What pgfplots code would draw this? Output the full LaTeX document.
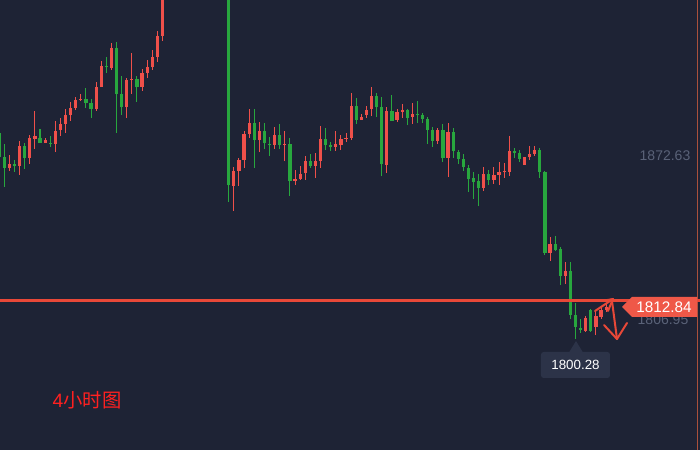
\documentclass[border=0pt]{standalone}
\usepackage{pgfplots}
\usepackage{pgfplotstable}
\usepackage{fontspec}
\pgfplotsset{compat=1.18}
\setmainfont{Liberation Sans}
\newfontfamily\cjk{Noto Sans CJK SC}
\definecolor{bgc}{RGB}{30,35,53}
\definecolor{upred}{RGB}{239,80,74}
\definecolor{dngreen}{RGB}{40,167,62}
\definecolor{linered}{RGB}{232,72,56}
\definecolor{tagred}{RGB}{239,88,72}
\definecolor{graytxt}{RGB}{90,98,120}
\definecolor{tipbg}{RGB}{44,51,72}
\definecolor{edgeline}{RGB}{170,80,60}
\definecolor{cnred}{RGB}{255,32,32}

% rising candles (red): index, open, high, low, close
\pgfplotstableread{
i o h l c
2 1857.2 1861.5 1856.2 1858.5
4 1857.9 1866.2 1854.9 1864.5
6 1860.5 1868.2 1858.5 1867.2
7 1866.9 1876.2 1863.5 1867.9
9 1865.5 1867.2 1865.5 1866.5
11 1865.2 1872.9 1862.5 1869.5
12 1869.9 1873.9 1867.9 1871.9
13 1871.9 1876.9 1868.9 1874.9
14 1874.9 1879.2 1872.9 1877.2
15 1877.2 1880.9 1876.5 1879.9
16 1879.9 1881.9 1879.5 1880.2
19 1876.9 1885.9 1876.2 1884.2
20 1884.2 1892.9 1884.2 1891.2
22 1890.5 1898.9 1889.9 1897.2
25 1877.5 1887.2 1873.9 1886.5
26 1886.5 1895.5 1881.9 1886.9
28 1884.2 1890.2 1882.9 1888.9
29 1888.9 1893.2 1887.2 1890.9
30 1890.9 1896.5 1889.9 1894.2
31 1894.2 1902.9 1892.5 1901.2
32 1901.2 1918.2 1899.5 1916.5
46 1851.2 1857.5 1842.9 1856.2
47 1856.2 1860.5 1851.2 1859.9
48 1859.9 1869.5 1857.2 1868.5
49 1868.5 1876.9 1867.2 1872.2
51 1866.5 1872.5 1862.5 1869.5
54 1864.9 1870.9 1863.5 1868.2
56 1864.9 1869.5 1859.5 1865.2
58 1852.9 1856.5 1851.5 1853.5
59 1853.5 1857.9 1853.2 1855.2
60 1855.5 1861.2 1853.2 1859.5
62 1857.9 1862.2 1853.9 1859.5
63 1859.5 1871.2 1857.2 1866.9
66 1864.2 1869.5 1862.9 1865.2
67 1864.9 1868.2 1863.2 1866.9
68 1866.9 1868.9 1865.9 1867.2
69 1867.2 1882.2 1866.5 1877.9
71 1873.2 1875.2 1873.2 1874.2
72 1874.9 1877.9 1873.9 1876.5
73 1876.9 1884.2 1874.5 1881.2
76 1858.2 1877.5 1855.5 1876.2
78 1873.2 1876.9 1872.5 1875.9
79 1875.9 1878.5 1873.9 1876.5
81 1874.2 1878.9 1871.9 1875.2
86 1866.2 1870.5 1865.2 1869.9
88 1860.5 1872.2 1854.2 1869.2
95 1850.5 1857.5 1849.5 1855.2
97 1853.2 1857.5 1851.9 1854.9
98 1854.9 1859.2 1851.5 1855.9
99 1855.9 1858.9 1853.9 1856.2
100 1855.9 1867.9 1854.5 1862.9
103 1858.2 1860.9 1858.2 1860.9
104 1860.9 1864.5 1859.9 1861.9
105 1861.9 1864.5 1861.2 1863.2
108 1828.9 1834.2 1826.2 1831.9
111 1821.2 1825.9 1818.5 1822.9
115 1802.9 1807.9 1802.5 1807.2
117 1804.2 1809.9 1801.5 1807.9
118 1807.5 1811.2 1806.9 1809.9
119 1809.9 1812.2 1809.2 1810.9
}\rising

% falling candles (green): index, open, high, low, close
\pgfplotstableread{
i o h l c
0 1868.9 1868.9 1860.9 1860.9
1 1860.9 1865.2 1850.9 1857.2
3 1858.5 1859.9 1855.9 1857.9
5 1864.5 1865.5 1856.9 1860.5
8 1867.2 1870.2 1865.5 1865.5
10 1865.5 1867.9 1864.2 1865.2
17 1880.2 1883.9 1877.2 1878.9
18 1878.9 1880.2 1873.9 1876.9
21 1891.2 1894.2 1888.9 1890.9
23 1897.2 1899.2 1868.9 1881.9
24 1881.9 1887.9 1874.9 1877.5
27 1886.9 1887.9 1879.2 1884.2
45 1916.5 1918.2 1845.9 1851.5
50 1872.2 1876.9 1857.2 1866.5
52 1869.5 1872.2 1863.5 1865.5
53 1865.2 1867.5 1861.2 1864.9
55 1868.2 1871.9 1863.5 1864.9
57 1865.2 1867.2 1847.9 1852.9
61 1859.5 1861.9 1857.2 1857.9
64 1866.9 1870.5 1863.2 1864.9
65 1864.9 1865.9 1862.9 1864.2
70 1877.9 1880.5 1871.9 1873.2
74 1881.2 1882.2 1874.2 1877.5
75 1877.5 1880.9 1854.5 1858.5
77 1876.2 1881.5 1872.9 1872.9
80 1876.5 1876.9 1871.5 1873.9
82 1875.2 1879.5 1872.2 1874.9
83 1874.9 1875.5 1872.2 1873.5
84 1873.5 1874.2 1865.2 1869.9
85 1869.9 1870.9 1864.2 1866.2
87 1869.9 1871.9 1859.2 1860.5
89 1869.2 1870.5 1860.5 1862.9
90 1862.5 1863.2 1858.5 1860.2
91 1860.2 1861.9 1856.2 1857.5
92 1857.2 1858.2 1849.2 1853.5
93 1853.9 1855.9 1846.9 1852.5
94 1852.9 1855.2 1844.5 1850.5
96 1855.2 1856.5 1851.5 1853.2
101 1862.9 1863.9 1860.5 1862.2
102 1862.2 1863.2 1859.2 1860.2
106 1863.2 1863.9 1853.9 1855.9
107 1855.9 1856.2 1828.2 1828.9
109 1831.9 1834.5 1829.5 1829.9
110 1830.2 1830.9 1818.2 1821.2
112 1822.9 1825.9 1806.9 1808.2
113 1808.2 1812.2 1800.2 1804.2
114 1803.9 1806.9 1802.2 1803.2
116 1809.9 1810.2 1802.5 1802.9
}\falling

\begin{document}
\begin{tikzpicture}
\begin{axis}[
  width=525pt, height=337.5pt, scale only axis,
  xmin=0.151, xmax=137.4, ymin=1763.2, ymax=1913.2,
  axis line style={draw=none}, xtick=\empty, ytick=\empty,
  axis background/.style={fill=bgc},
  clip=true,
]
% wicks
\addplot[draw=none, mark=none, forget plot,
  error bars/.cd, y dir=plus, y explicit, error mark=none,
  error bar style={line width=0.8pt, draw=upred}]
  table[x=i, y=l, y error expr=\thisrow{h}-\thisrow{l}] {\rising};
\addplot[draw=none, mark=none, forget plot,
  error bars/.cd, y dir=plus, y explicit, error mark=none,
  error bar style={line width=0.8pt, draw=dngreen}]
  table[x=i, y=l, y error expr=\thisrow{h}-\thisrow{l}] {\falling};
% bodies
\addplot[draw=none, mark=none, forget plot,
  error bars/.cd, y dir=plus, y explicit, error mark=none,
  error bar style={line width=2.4pt, draw=upred}]
  table[x=i, y expr={min(\thisrow{o},\thisrow{c})}, y error expr={max(abs(\thisrow{c}-\thisrow{o}),0.4)}] {\rising};
\addplot[draw=none, mark=none, forget plot,
  error bars/.cd, y dir=plus, y explicit, error mark=none,
  error bar style={line width=2.4pt, draw=dngreen}]
  table[x=i, y expr={min(\thisrow{o},\thisrow{c})}, y error expr={max(abs(\thisrow{c}-\thisrow{o}),0.4)}] {\falling};

% right edge line
\draw[edgeline, line width=0.6pt] (rel axis cs:{697/700},0) -- (rel axis cs:{697/700},1);
% current price line
\draw[linered, line width=2.2pt] (rel axis cs:0,{1-300.5/450}) -- (rel axis cs:1,{1-300.5/450});
% hand drawn arrows
\begin{scope}[linered, line width=1.5pt, line cap=round, line join=round]
\draw (rel axis cs:{595/700},{1-311/450}) -- (rel axis cs:{613/700},{1-299/450});
\draw (rel axis cs:{602/700},{1-301/450}) -- (rel axis cs:{613/700},{1-299/450}) -- (rel axis cs:{608/700},{1-311/450});
\draw (rel axis cs:{612/700},{1-301/450}) -- (rel axis cs:{617/700},{1-339/450});
\draw (rel axis cs:{604/700},{1-325/450}) -- (rel axis cs:{617/700},{1-339/450}) -- (rel axis cs:{627/700},{1-323/450});
\end{scope}
% gray price labels
\node[graytxt, font=\fontsize{10.5}{12}\selectfont] at (rel axis cs:{665/700},{1-156/450}) {1872.63};
\node[graytxt, font=\fontsize{10.5}{12}\selectfont] at (rel axis cs:{663/700},{1-320/450}) {1806.95};
% price tag
\fill[tagred] (rel axis cs:{622/700},{1-307/450}) -- (rel axis cs:{632/700},{1-297/450}) -- (rel axis cs:{697/700},{1-297/450}) -- (rel axis cs:{697/700},{1-317/450}) -- (rel axis cs:{632/700},{1-317/450}) -- cycle;
\node[white, font=\fontsize{11.5}{13}\selectfont] at (rel axis cs:{664/700},{1-307.5/450}) {1812.84};
% tooltip
\fill[tipbg, rounded corners=2pt] (rel axis cs:{541/700},{1-352/450}) rectangle (rel axis cs:{610/700},{1-378/450});
\fill[tipbg] (rel axis cs:{569/700},{1-352.5/450}) -- (rel axis cs:{576/700},{1-341/450}) -- (rel axis cs:{583/700},{1-352.5/450}) -- cycle;
\node[white, font=\fontsize{10}{12}\selectfont] at (rel axis cs:{575.5/700},{1-365/450}) {1800.28};
% caption
\node[cnred, anchor=west, font=\fontsize{14.5}{16}\selectfont] at (rel axis cs:{48/700},{1-400/450}) {4{\cjk 小时图}};
\end{axis}
\end{tikzpicture}
\end{document}
